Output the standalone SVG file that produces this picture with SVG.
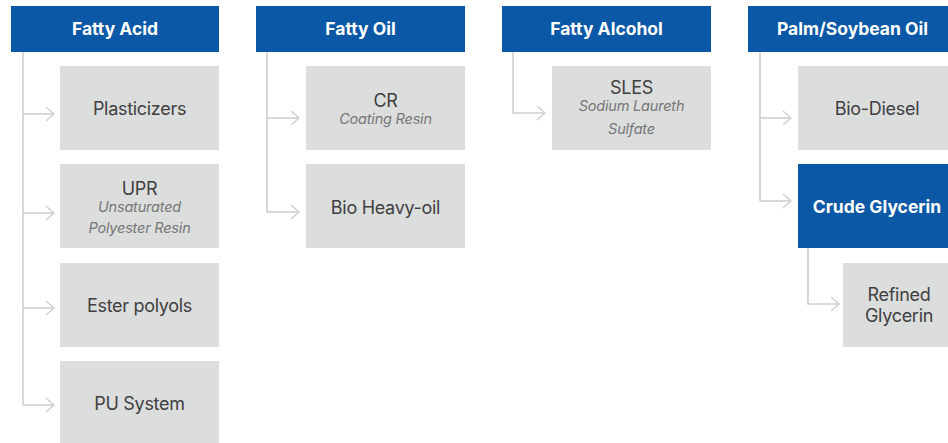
<svg xmlns="http://www.w3.org/2000/svg" width="948" height="443" viewBox="0 0 948 443">
<defs>
<style>
.hdr{fill:#0b58a6}
.box{fill:#dcdddd}
.ht{font-family:Inter,"Liberation Sans",sans-serif;font-weight:700;font-size:17.5px;fill:#fff;text-anchor:middle}
.bt{font-family:Inter,"Liberation Sans",sans-serif;font-size:18px;fill:#404040;text-anchor:middle;letter-spacing:-0.3px}
.it{font-family:Inter,"Liberation Sans",sans-serif;font-style:italic;font-size:14.5px;fill:#777;text-anchor:middle;letter-spacing:-0.2px}
.ln{fill:none;stroke:#cfcfcf;stroke-width:1.6}
</style>
<marker id="chev" viewBox="0 0 10 16" refX="9" refY="8" markerWidth="10" markerHeight="16" markerUnits="userSpaceOnUse" orient="auto">
<path d="M1,1 L9,8 L1,15" fill="none" stroke="#cfcfcf" stroke-width="1.4"/>
</marker>
</defs>
<rect width="948" height="443" fill="#fff"/>
<g id="connectors">
<path class="ln" d="M23,52 V405"/>
<path class="ln" d="M23,114 H54" marker-end="url(#chev)"/>
<path class="ln" d="M23,213 H54" marker-end="url(#chev)"/>
<path class="ln" d="M23,308 H54" marker-end="url(#chev)"/>
<path class="ln" d="M23,405 H54" marker-end="url(#chev)"/>
<path class="ln" d="M267,52 V212"/>
<path class="ln" d="M267,118 H299" marker-end="url(#chev)"/>
<path class="ln" d="M267,212 H299" marker-end="url(#chev)"/>
<path class="ln" d="M513,52 V113 H545" marker-end="url(#chev)"/>
<path class="ln" d="M760,52 V201"/>
<path class="ln" d="M760,118 H791" marker-end="url(#chev)"/>
<path class="ln" d="M760,201 H791" marker-end="url(#chev)"/>
<path class="ln" d="M808,248 V304 H839" marker-end="url(#chev)"/>
</g>
<g id="fatty-acid"><rect class="hdr" x="11" y="6" width="208" height="46"/><text class="ht" x="115" y="35">Fatty Acid</text></g>
<g id="plasticizers"><rect class="box" x="60" y="66" width="159" height="84"/><text class="bt" x="139.5" y="115">Plasticizers</text></g>
<g id="upr"><rect class="box" x="60" y="164" width="159" height="84"/><text class="bt" x="139.5" y="195">UPR</text><text class="it" x="139.5" y="212">Unsaturated</text><text class="it" x="139.5" y="233">Polyester Resin</text></g>
<g id="ester-polyols"><rect class="box" x="60" y="263" width="159" height="84"/><text class="bt" x="139.5" y="312">Ester polyols</text></g>
<g id="pu-system"><rect class="box" x="60" y="361" width="159" height="84"/><text class="bt" x="139.5" y="410">PU System</text></g>

<g id="fatty-oil"><rect class="hdr" x="256" y="6" width="209" height="46"/><text class="ht" x="360.5" y="35">Fatty Oil</text></g>
<g id="cr"><rect class="box" x="306" y="66" width="159" height="84"/><text class="bt" x="385.5" y="107">CR</text><text class="it" x="385.5" y="124">Coating Resin</text></g>
<g id="bio-heavy-oil"><rect class="box" x="306" y="164" width="159" height="84"/><text class="bt" x="385.5" y="214">Bio Heavy-oil</text></g>

<g id="fatty-alcohol"><rect class="hdr" x="502" y="6" width="209" height="46"/><text class="ht" x="606.5" y="35">Fatty Alcohol</text></g>
<g id="sles"><rect class="box" x="552" y="66" width="159" height="84"/><text class="bt" x="631.5" y="94">SLES</text><text class="it" x="631.5" y="111">Sodium Laureth</text><text class="it" x="631.5" y="134">Sulfate</text></g>

<g id="palm-soybean-oil"><rect class="hdr" x="748" y="6" width="209" height="46"/><text class="ht" x="852.5" y="35">Palm/Soybean Oil</text></g>
<g id="bio-diesel"><rect class="box" x="798" y="66" width="159" height="84"/><text class="bt" x="877" y="115">Bio-Diesel</text></g>
<g id="crude-glycerin"><rect class="hdr" x="798" y="164" width="159" height="84"/><text class="ht" x="877" y="213">Crude Glycerin</text></g>
<g id="refined-glycerin"><rect class="box" x="843" y="263" width="114" height="84"/><text class="bt" x="899" y="301">Refined</text><text class="bt" x="899" y="322">Glycerin</text></g>
</svg>
